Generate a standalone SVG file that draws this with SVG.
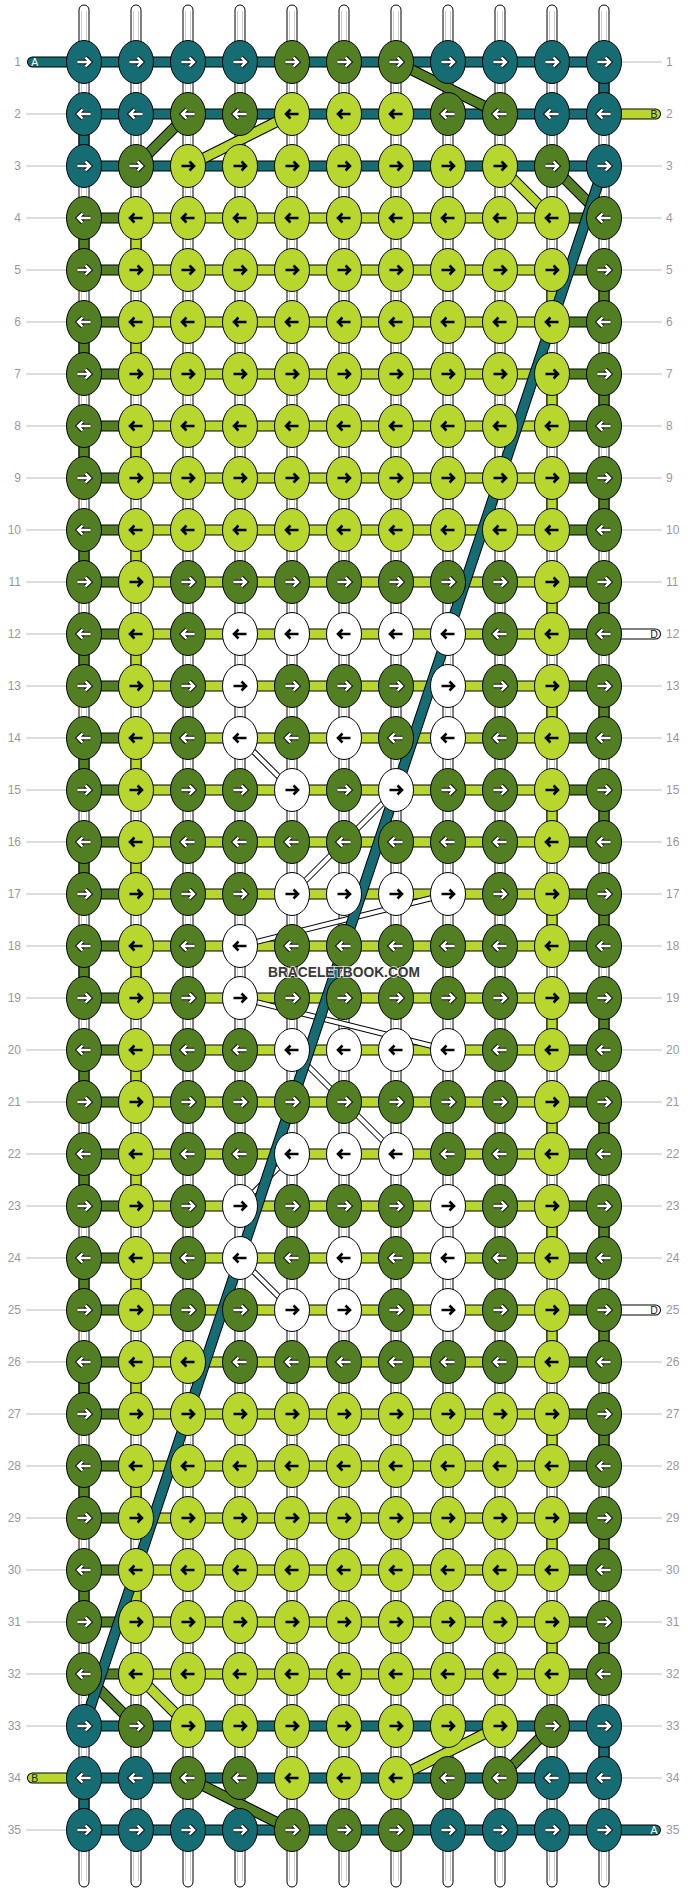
<svg xmlns="http://www.w3.org/2000/svg" width="688" height="1892" viewBox="0 0 688 1892">
<style>
.ko{fill:none;stroke:#000;stroke-width:11}
.kt{fill:none;stroke:#166c73;stroke-width:9}
.kg{fill:none;stroke:#527f22;stroke-width:9}
.kl{fill:none;stroke:#b7d72f;stroke-width:9}
.kw{fill:none;stroke:#fff;stroke-width:9}
.rc{stroke-linecap:round}
.wo{fill:none;stroke:#000;stroke-width:6}
.wi{fill:none;stroke:#fff;stroke-width:4}
.warp{fill:#fff;stroke:#000;stroke-width:1}
.wline{fill:none;stroke:#cfcfcf;stroke-width:1}
.guide{fill:none;stroke:#bbb;stroke-width:1}
.num{font-family:"Liberation Sans",Arial,sans-serif;font-size:12px;fill:#999}
.lab{font-family:"Liberation Sans",Arial,sans-serif;font-size:10.5px;text-anchor:middle}
.wm{font-family:"Liberation Sans",Arial,sans-serif;font-size:14.5px;font-weight:bold;fill:#383838;text-anchor:middle;stroke:#fff;stroke-width:2;stroke-opacity:0.7;paint-order:stroke}
</style>
<defs>
<ellipse id="e" rx="17.5" ry="21.5" stroke="#000" stroke-width="1"/>
<path id="pr" d="M-6.5,0H5M1.5,-4.5L6,0L1.5,4.5" fill="none"/>
<path id="pl" d="M6.5,0H-5M-1.5,-4.5L-6,0L-1.5,4.5" fill="none"/>
<g id="wr"><use href="#pr" stroke="#1a1a1a" stroke-width="4.6"/><use href="#pr" stroke="#fff" stroke-width="2.4"/></g>
<g id="wl"><use href="#pl" stroke="#1a1a1a" stroke-width="4.6"/><use href="#pl" stroke="#fff" stroke-width="2.4"/></g>
<use id="br" href="#pr" stroke="#000" stroke-width="2.6"/>
<use id="bl" href="#pl" stroke="#000" stroke-width="2.6"/>
<g id="TR"><use href="#e" fill="#166c73"/><use href="#wr"/></g>
<g id="TL"><use href="#e" fill="#166c73"/><use href="#wl"/></g>
<g id="GR"><use href="#e" fill="#527f22"/><use href="#wr"/></g>
<g id="GL"><use href="#e" fill="#527f22"/><use href="#wl"/></g>
<g id="LR"><use href="#e" fill="#b7d72f"/><use href="#br"/></g>
<g id="LL"><use href="#e" fill="#b7d72f"/><use href="#bl"/></g>
<g id="WR"><use href="#e" fill="#fff"/><use href="#br"/></g>
<g id="WL"><use href="#e" fill="#fff"/><use href="#bl"/></g>
</defs>
<rect width="688" height="1892" fill="#fff"/>
<g id="guides">
<path class="guide" d="M26,114H84M26,166H84M26,218H84M26,270H84M26,322H84M26,374H84M26,426H84M26,478H84M26,530H84M26,582H84M26,634H84M26,686H84M26,738H84M26,790H84M26,842H84M26,894H84M26,946H84M26,998H84M26,1050H84M26,1102H84M26,1154H84M26,1206H84M26,1258H84M26,1310H84M26,1362H84M26,1414H84M26,1466H84M26,1518H84M26,1570H84M26,1622H84M26,1674H84M26,1726H84M26,1830H84M604,62H662M604,166H662M604,218H662M604,270H662M604,322H662M604,374H662M604,426H662M604,478H662M604,530H662M604,582H662M604,686H662M604,738H662M604,790H662M604,842H662M604,894H662M604,946H662M604,998H662M604,1050H662M604,1102H662M604,1154H662M604,1206H662M604,1258H662M604,1362H662M604,1414H662M604,1466H662M604,1518H662M604,1570H662M604,1622H662M604,1674H662M604,1726H662M604,1778H662"/>
</g>
<g id="rownumbers" class="num">
<g text-anchor="end">
<text x="21" y="66">1</text><text x="21" y="118">2</text><text x="21" y="170">3</text><text x="21" y="222">4</text><text x="21" y="274">5</text><text x="21" y="326">6</text><text x="21" y="378">7</text><text x="21" y="430">8</text><text x="21" y="482">9</text><text x="21" y="534">10</text><text x="21" y="586">11</text><text x="21" y="638">12</text><text x="21" y="690">13</text><text x="21" y="742">14</text><text x="21" y="794">15</text><text x="21" y="846">16</text><text x="21" y="898">17</text><text x="21" y="950">18</text><text x="21" y="1002">19</text><text x="21" y="1054">20</text><text x="21" y="1106">21</text><text x="21" y="1158">22</text><text x="21" y="1210">23</text><text x="21" y="1262">24</text><text x="21" y="1314">25</text><text x="21" y="1366">26</text><text x="21" y="1418">27</text><text x="21" y="1470">28</text><text x="21" y="1522">29</text><text x="21" y="1574">30</text><text x="21" y="1626">31</text><text x="21" y="1678">32</text><text x="21" y="1730">33</text><text x="21" y="1782">34</text><text x="21" y="1834">35</text>
</g>
<g text-anchor="start">
<text x="666" y="66">1</text><text x="666" y="118">2</text><text x="666" y="170">3</text><text x="666" y="222">4</text><text x="666" y="274">5</text><text x="666" y="326">6</text><text x="666" y="378">7</text><text x="666" y="430">8</text><text x="666" y="482">9</text><text x="666" y="534">10</text><text x="666" y="586">11</text><text x="666" y="638">12</text><text x="666" y="690">13</text><text x="666" y="742">14</text><text x="666" y="794">15</text><text x="666" y="846">16</text><text x="666" y="898">17</text><text x="666" y="950">18</text><text x="666" y="1002">19</text><text x="666" y="1054">20</text><text x="666" y="1106">21</text><text x="666" y="1158">22</text><text x="666" y="1210">23</text><text x="666" y="1262">24</text><text x="666" y="1314">25</text><text x="666" y="1366">26</text><text x="666" y="1418">27</text><text x="666" y="1470">28</text><text x="666" y="1522">29</text><text x="666" y="1574">30</text><text x="666" y="1626">31</text><text x="666" y="1678">32</text><text x="666" y="1730">33</text><text x="666" y="1782">34</text><text x="666" y="1834">35</text>
</g>
</g>
<g id="warps">
<rect class="warp" x="79" y="5" width="10" height="1882" rx="5"/><rect class="warp" x="131" y="5" width="10" height="1882" rx="5"/><rect class="warp" x="183" y="5" width="10" height="1882" rx="5"/><rect class="warp" x="235" y="5" width="10" height="1882" rx="5"/><rect class="warp" x="287" y="5" width="10" height="1882" rx="5"/><rect class="warp" x="339" y="5" width="10" height="1882" rx="5"/><rect class="warp" x="391" y="5" width="10" height="1882" rx="5"/><rect class="warp" x="443" y="5" width="10" height="1882" rx="5"/><rect class="warp" x="495" y="5" width="10" height="1882" rx="5"/><rect class="warp" x="547" y="5" width="10" height="1882" rx="5"/><rect class="warp" x="599" y="5" width="10" height="1882" rx="5"/>
<path class="wline" d="M81.5,11V1881M86.5,11V1881M133.5,11V1881M138.5,11V1881M185.5,11V1881M190.5,11V1881M237.5,11V1881M242.5,11V1881M289.5,11V1881M294.5,11V1881M341.5,11V1881M346.5,11V1881M393.5,11V1881M398.5,11V1881M445.5,11V1881M450.5,11V1881M497.5,11V1881M502.5,11V1881M549.5,11V1881M554.5,11V1881M601.5,11V1881M606.5,11V1881"/>
</g>
<g id="connectors">
<path class="ko" d="M84,62H604M84,114H604M84,166H604M84,1726H604M84,1778H604M84,1830H604M604,62V114M84,114V166M604,1726V1778M84,1778V1830M84,218H604M84,270H604M84,322H604M84,374H604M84,426H604M84,478H604M84,530H604M84,582H604M84,634H604M84,686H604M84,738H604M84,790H604M84,842H604M84,894H604M84,946H604M84,998H604M84,1050H604M84,1102H604M84,1154H604M84,1206H604M84,1258H604M84,1310H604M84,1362H604M84,1414H604M84,1466H604M84,1518H604M84,1570H604M84,1622H604M84,1674H604M84,218V270M84,322V374M84,426V478M84,530V582M84,634V686M84,738V790M84,842V894M84,946V998M84,1050V1102M84,1154V1206M84,1258V1310M84,1362V1414M84,1466V1518M84,1570V1622M136,218V270M136,322V374M136,426V478M136,530V582M136,634V686M136,738V790M136,842V894M136,946V998M136,1050V1102M136,1154V1206M136,1258V1310M136,1362V1414M136,1466V1518M136,1570V1622M552,270V322M552,374V426M552,478V530M552,582V634M552,686V738M552,790V842M552,894V946M552,998V1050M552,1102V1154M552,1206V1258M552,1310V1362M552,1414V1466M552,1518V1570M552,1622V1674M604,270V322M604,374V426M604,478V530M604,582V634M604,686V738M604,790V842M604,894V946M604,998V1050M604,1102V1154M604,1206V1258M604,1310V1362M604,1414V1466M604,1518V1570M604,1622V1674"/>
<path class="kt" d="M84,62H604M84,114H604M84,166H604M84,1726H604M84,1778H604M84,1830H604M604,62V114M84,114V166M604,1726V1778M84,1778V1830"/>
<path class="kl" d="M136,218H552M136,270H552M136,322H552M136,374H552M136,426H552M136,478H552M136,530H552M136,582H552M136,634H552M136,686H552M136,738H552M136,790H552M136,842H552M136,894H552M136,946H552M136,998H552M136,1050H552M136,1102H552M136,1154H552M136,1206H552M136,1258H552M136,1310H552M136,1362H552M136,1414H552M136,1466H552M136,1518H552M136,1570H552M136,1622H552M136,1674H552M136,218V270M136,322V374M136,426V478M136,530V582M136,634V686M136,738V790M136,842V894M136,946V998M136,1050V1102M136,1154V1206M136,1258V1310M136,1362V1414M136,1466V1518M136,1570V1622M552,270V322M552,374V426M552,478V530M552,582V634M552,686V738M552,790V842M552,894V946M552,998V1050M552,1102V1154M552,1206V1258M552,1310V1362M552,1414V1466M552,1518V1570M552,1622V1674"/>
<path class="kg" d="M84,218H136M552,218H604M84,270H136M552,270H604M84,322H136M552,322H604M84,374H136M552,374H604M84,426H136M552,426H604M84,478H136M552,478H604M84,530H136M552,530H604M84,582H136M552,582H604M84,634H136M552,634H604M84,686H136M552,686H604M84,738H136M552,738H604M84,790H136M552,790H604M84,842H136M552,842H604M84,894H136M552,894H604M84,946H136M552,946H604M84,998H136M552,998H604M84,1050H136M552,1050H604M84,1102H136M552,1102H604M84,1154H136M552,1154H604M84,1206H136M552,1206H604M84,1258H136M552,1258H604M84,1310H136M552,1310H604M84,1362H136M552,1362H604M84,1414H136M552,1414H604M84,1466H136M552,1466H604M84,1518H136M552,1518H604M84,1570H136M552,1570H604M84,1622H136M552,1622H604M84,1674H136M552,1674H604M84,218V270M84,322V374M84,426V478M84,530V582M84,634V686M84,738V790M84,842V894M84,946V998M84,1050V1102M84,1154V1206M84,1258V1310M84,1362V1414M84,1466V1518M84,1570V1622M604,270V322M604,374V426M604,478V530M604,582V634M604,686V738M604,790V842M604,894V946M604,998V1050M604,1102V1154M604,1206V1258M604,1310V1362M604,1414V1466M604,1518V1570M604,1622V1674"/>
<path class="ko rc" d="M32.5,62H84M604,114H655.5M604,634H655.5M604,1310H655.5M32.5,1778H84M604,1830H655.5"/>
<path class="kt rc" d="M32.5,62H84M604,1830H655.5"/>
<path class="kl rc" d="M604,114H655.5M32.5,1778H84"/>
<path class="kw rc" d="M604,634H655.5M604,1310H655.5"/>
<path class="wo" d="M240,738L292,790M396,790L292,894M448,894L240,946M240,998L448,1050M292,1050L396,1154M292,1154L240,1206M240,1258L292,1310"/>
<path class="wi" d="M240,738L292,790M396,790L292,894M448,894L240,946M240,998L448,1050M292,1050L396,1154M292,1154L240,1206M240,1258L292,1310"/>
<path class="ko" d="M396,62L500,114M188,114L136,166M292,114L188,166M552,166L604,218M500,166L552,218M84,1674L136,1726M136,1674L188,1726M552,1726L500,1778M500,1726L396,1778M188,1778L292,1830"/>
<path class="kg" d="M396,62L500,114M188,114L136,166M552,166L604,218M84,1674L136,1726M552,1726L500,1778M188,1778L292,1830"/>
<path class="kl" d="M292,114L188,166M500,166L552,218M136,1674L188,1726M500,1726L396,1778"/>
<path class="ko" d="M604,166L84,1726"/>
<path class="kt" d="M604,166L84,1726"/>
</g>
<g id="threadlabels" class="lab">
<text x="34.7" y="66" fill="#fff">A</text>
<text x="654" y="118" fill="#222">B</text>
<text x="654" y="638" fill="#222">D</text>
<text x="654" y="1314" fill="#222">D</text>
<text x="34.7" y="1782" fill="#222">B</text>
<text x="654" y="1834" fill="#fff">A</text>
</g>
<g id="nodes">
<g id="n1-1" transform="translate(84,62)"><use href="#TR"/></g><g id="n1-2" transform="translate(136,62)"><use href="#TR"/></g><g id="n1-3" transform="translate(188,62)"><use href="#TR"/></g><g id="n1-4" transform="translate(240,62)"><use href="#TR"/></g><g id="n1-5" transform="translate(292,62)"><use href="#GR"/></g><g id="n1-6" transform="translate(344,62)"><use href="#GR"/></g><g id="n1-7" transform="translate(396,62)"><use href="#GR"/></g><g id="n1-8" transform="translate(448,62)"><use href="#TR"/></g><g id="n1-9" transform="translate(500,62)"><use href="#TR"/></g><g id="n1-10" transform="translate(552,62)"><use href="#TR"/></g><g id="n1-11" transform="translate(604,62)"><use href="#TR"/></g>
<g id="n2-1" transform="translate(84,114)"><use href="#TL"/></g><g id="n2-2" transform="translate(136,114)"><use href="#TL"/></g><g id="n2-3" transform="translate(188,114)"><use href="#GL"/></g><g id="n2-4" transform="translate(240,114)"><use href="#GL"/></g><g id="n2-5" transform="translate(292,114)"><use href="#LL"/></g><g id="n2-6" transform="translate(344,114)"><use href="#LL"/></g><g id="n2-7" transform="translate(396,114)"><use href="#LL"/></g><g id="n2-8" transform="translate(448,114)"><use href="#GL"/></g><g id="n2-9" transform="translate(500,114)"><use href="#GL"/></g><g id="n2-10" transform="translate(552,114)"><use href="#TL"/></g><g id="n2-11" transform="translate(604,114)"><use href="#TL"/></g>
<g id="n3-1" transform="translate(84,166)"><use href="#TR"/></g><g id="n3-2" transform="translate(136,166)"><use href="#GR"/></g><g id="n3-3" transform="translate(188,166)"><use href="#LR"/></g><g id="n3-4" transform="translate(240,166)"><use href="#LR"/></g><g id="n3-5" transform="translate(292,166)"><use href="#LR"/></g><g id="n3-6" transform="translate(344,166)"><use href="#LR"/></g><g id="n3-7" transform="translate(396,166)"><use href="#LR"/></g><g id="n3-8" transform="translate(448,166)"><use href="#LR"/></g><g id="n3-9" transform="translate(500,166)"><use href="#LR"/></g><g id="n3-10" transform="translate(552,166)"><use href="#GR"/></g><g id="n3-11" transform="translate(604,166)"><use href="#TR"/></g>
<g id="n4-1" transform="translate(84,218)"><use href="#GL"/></g><g id="n4-2" transform="translate(136,218)"><use href="#LL"/></g><g id="n4-3" transform="translate(188,218)"><use href="#LL"/></g><g id="n4-4" transform="translate(240,218)"><use href="#LL"/></g><g id="n4-5" transform="translate(292,218)"><use href="#LL"/></g><g id="n4-6" transform="translate(344,218)"><use href="#LL"/></g><g id="n4-7" transform="translate(396,218)"><use href="#LL"/></g><g id="n4-8" transform="translate(448,218)"><use href="#LL"/></g><g id="n4-9" transform="translate(500,218)"><use href="#LL"/></g><g id="n4-10" transform="translate(552,218)"><use href="#LL"/></g><g id="n4-11" transform="translate(604,218)"><use href="#GL"/></g>
<g id="n5-1" transform="translate(84,270)"><use href="#GR"/></g><g id="n5-2" transform="translate(136,270)"><use href="#LR"/></g><g id="n5-3" transform="translate(188,270)"><use href="#LR"/></g><g id="n5-4" transform="translate(240,270)"><use href="#LR"/></g><g id="n5-5" transform="translate(292,270)"><use href="#LR"/></g><g id="n5-6" transform="translate(344,270)"><use href="#LR"/></g><g id="n5-7" transform="translate(396,270)"><use href="#LR"/></g><g id="n5-8" transform="translate(448,270)"><use href="#LR"/></g><g id="n5-9" transform="translate(500,270)"><use href="#LR"/></g><g id="n5-10" transform="translate(552,270)"><use href="#LR"/></g><g id="n5-11" transform="translate(604,270)"><use href="#GR"/></g>
<g id="n6-1" transform="translate(84,322)"><use href="#GL"/></g><g id="n6-2" transform="translate(136,322)"><use href="#LL"/></g><g id="n6-3" transform="translate(188,322)"><use href="#LL"/></g><g id="n6-4" transform="translate(240,322)"><use href="#LL"/></g><g id="n6-5" transform="translate(292,322)"><use href="#LL"/></g><g id="n6-6" transform="translate(344,322)"><use href="#LL"/></g><g id="n6-7" transform="translate(396,322)"><use href="#LL"/></g><g id="n6-8" transform="translate(448,322)"><use href="#LL"/></g><g id="n6-9" transform="translate(500,322)"><use href="#LL"/></g><g id="n6-10" transform="translate(552,322)"><use href="#LL"/></g><g id="n6-11" transform="translate(604,322)"><use href="#GL"/></g>
<g id="n7-1" transform="translate(84,374)"><use href="#GR"/></g><g id="n7-2" transform="translate(136,374)"><use href="#LR"/></g><g id="n7-3" transform="translate(188,374)"><use href="#LR"/></g><g id="n7-4" transform="translate(240,374)"><use href="#LR"/></g><g id="n7-5" transform="translate(292,374)"><use href="#LR"/></g><g id="n7-6" transform="translate(344,374)"><use href="#LR"/></g><g id="n7-7" transform="translate(396,374)"><use href="#LR"/></g><g id="n7-8" transform="translate(448,374)"><use href="#LR"/></g><g id="n7-9" transform="translate(500,374)"><use href="#LR"/></g><g id="n7-10" transform="translate(552,374)"><use href="#LR"/></g><g id="n7-11" transform="translate(604,374)"><use href="#GR"/></g>
<g id="n8-1" transform="translate(84,426)"><use href="#GL"/></g><g id="n8-2" transform="translate(136,426)"><use href="#LL"/></g><g id="n8-3" transform="translate(188,426)"><use href="#LL"/></g><g id="n8-4" transform="translate(240,426)"><use href="#LL"/></g><g id="n8-5" transform="translate(292,426)"><use href="#LL"/></g><g id="n8-6" transform="translate(344,426)"><use href="#LL"/></g><g id="n8-7" transform="translate(396,426)"><use href="#LL"/></g><g id="n8-8" transform="translate(448,426)"><use href="#LL"/></g><g id="n8-9" transform="translate(500,426)"><use href="#LL"/></g><g id="n8-10" transform="translate(552,426)"><use href="#LL"/></g><g id="n8-11" transform="translate(604,426)"><use href="#GL"/></g>
<g id="n9-1" transform="translate(84,478)"><use href="#GR"/></g><g id="n9-2" transform="translate(136,478)"><use href="#LR"/></g><g id="n9-3" transform="translate(188,478)"><use href="#LR"/></g><g id="n9-4" transform="translate(240,478)"><use href="#LR"/></g><g id="n9-5" transform="translate(292,478)"><use href="#LR"/></g><g id="n9-6" transform="translate(344,478)"><use href="#LR"/></g><g id="n9-7" transform="translate(396,478)"><use href="#LR"/></g><g id="n9-8" transform="translate(448,478)"><use href="#LR"/></g><g id="n9-9" transform="translate(500,478)"><use href="#LR"/></g><g id="n9-10" transform="translate(552,478)"><use href="#LR"/></g><g id="n9-11" transform="translate(604,478)"><use href="#GR"/></g>
<g id="n10-1" transform="translate(84,530)"><use href="#GL"/></g><g id="n10-2" transform="translate(136,530)"><use href="#LL"/></g><g id="n10-3" transform="translate(188,530)"><use href="#LL"/></g><g id="n10-4" transform="translate(240,530)"><use href="#LL"/></g><g id="n10-5" transform="translate(292,530)"><use href="#LL"/></g><g id="n10-6" transform="translate(344,530)"><use href="#LL"/></g><g id="n10-7" transform="translate(396,530)"><use href="#LL"/></g><g id="n10-8" transform="translate(448,530)"><use href="#LL"/></g><g id="n10-9" transform="translate(500,530)"><use href="#LL"/></g><g id="n10-10" transform="translate(552,530)"><use href="#LL"/></g><g id="n10-11" transform="translate(604,530)"><use href="#GL"/></g>
<g id="n11-1" transform="translate(84,582)"><use href="#GR"/></g><g id="n11-2" transform="translate(136,582)"><use href="#LR"/></g><g id="n11-3" transform="translate(188,582)"><use href="#GR"/></g><g id="n11-4" transform="translate(240,582)"><use href="#GR"/></g><g id="n11-5" transform="translate(292,582)"><use href="#GR"/></g><g id="n11-6" transform="translate(344,582)"><use href="#GR"/></g><g id="n11-7" transform="translate(396,582)"><use href="#GR"/></g><g id="n11-8" transform="translate(448,582)"><use href="#GR"/></g><g id="n11-9" transform="translate(500,582)"><use href="#GR"/></g><g id="n11-10" transform="translate(552,582)"><use href="#LR"/></g><g id="n11-11" transform="translate(604,582)"><use href="#GR"/></g>
<g id="n12-1" transform="translate(84,634)"><use href="#GL"/></g><g id="n12-2" transform="translate(136,634)"><use href="#LL"/></g><g id="n12-3" transform="translate(188,634)"><use href="#GL"/></g><g id="n12-4" transform="translate(240,634)"><use href="#WL"/></g><g id="n12-5" transform="translate(292,634)"><use href="#WL"/></g><g id="n12-6" transform="translate(344,634)"><use href="#WL"/></g><g id="n12-7" transform="translate(396,634)"><use href="#WL"/></g><g id="n12-8" transform="translate(448,634)"><use href="#WL"/></g><g id="n12-9" transform="translate(500,634)"><use href="#GL"/></g><g id="n12-10" transform="translate(552,634)"><use href="#LL"/></g><g id="n12-11" transform="translate(604,634)"><use href="#GL"/></g>
<g id="n13-1" transform="translate(84,686)"><use href="#GR"/></g><g id="n13-2" transform="translate(136,686)"><use href="#LR"/></g><g id="n13-3" transform="translate(188,686)"><use href="#GR"/></g><g id="n13-4" transform="translate(240,686)"><use href="#WR"/></g><g id="n13-5" transform="translate(292,686)"><use href="#GR"/></g><g id="n13-6" transform="translate(344,686)"><use href="#GR"/></g><g id="n13-7" transform="translate(396,686)"><use href="#GR"/></g><g id="n13-8" transform="translate(448,686)"><use href="#WR"/></g><g id="n13-9" transform="translate(500,686)"><use href="#GR"/></g><g id="n13-10" transform="translate(552,686)"><use href="#LR"/></g><g id="n13-11" transform="translate(604,686)"><use href="#GR"/></g>
<g id="n14-1" transform="translate(84,738)"><use href="#GL"/></g><g id="n14-2" transform="translate(136,738)"><use href="#LL"/></g><g id="n14-3" transform="translate(188,738)"><use href="#GL"/></g><g id="n14-4" transform="translate(240,738)"><use href="#WL"/></g><g id="n14-5" transform="translate(292,738)"><use href="#GL"/></g><g id="n14-6" transform="translate(344,738)"><use href="#WL"/></g><g id="n14-7" transform="translate(396,738)"><use href="#GL"/></g><g id="n14-8" transform="translate(448,738)"><use href="#WL"/></g><g id="n14-9" transform="translate(500,738)"><use href="#GL"/></g><g id="n14-10" transform="translate(552,738)"><use href="#LL"/></g><g id="n14-11" transform="translate(604,738)"><use href="#GL"/></g>
<g id="n15-1" transform="translate(84,790)"><use href="#GR"/></g><g id="n15-2" transform="translate(136,790)"><use href="#LR"/></g><g id="n15-3" transform="translate(188,790)"><use href="#GR"/></g><g id="n15-4" transform="translate(240,790)"><use href="#GR"/></g><g id="n15-5" transform="translate(292,790)"><use href="#WR"/></g><g id="n15-6" transform="translate(344,790)"><use href="#GR"/></g><g id="n15-7" transform="translate(396,790)"><use href="#WR"/></g><g id="n15-8" transform="translate(448,790)"><use href="#GR"/></g><g id="n15-9" transform="translate(500,790)"><use href="#GR"/></g><g id="n15-10" transform="translate(552,790)"><use href="#LR"/></g><g id="n15-11" transform="translate(604,790)"><use href="#GR"/></g>
<g id="n16-1" transform="translate(84,842)"><use href="#GL"/></g><g id="n16-2" transform="translate(136,842)"><use href="#LL"/></g><g id="n16-3" transform="translate(188,842)"><use href="#GL"/></g><g id="n16-4" transform="translate(240,842)"><use href="#GL"/></g><g id="n16-5" transform="translate(292,842)"><use href="#GL"/></g><g id="n16-6" transform="translate(344,842)"><use href="#GL"/></g><g id="n16-7" transform="translate(396,842)"><use href="#GL"/></g><g id="n16-8" transform="translate(448,842)"><use href="#GL"/></g><g id="n16-9" transform="translate(500,842)"><use href="#GL"/></g><g id="n16-10" transform="translate(552,842)"><use href="#LL"/></g><g id="n16-11" transform="translate(604,842)"><use href="#GL"/></g>
<g id="n17-1" transform="translate(84,894)"><use href="#GR"/></g><g id="n17-2" transform="translate(136,894)"><use href="#LR"/></g><g id="n17-3" transform="translate(188,894)"><use href="#GR"/></g><g id="n17-4" transform="translate(240,894)"><use href="#GR"/></g><g id="n17-5" transform="translate(292,894)"><use href="#WR"/></g><g id="n17-6" transform="translate(344,894)"><use href="#WR"/></g><g id="n17-7" transform="translate(396,894)"><use href="#WR"/></g><g id="n17-8" transform="translate(448,894)"><use href="#WR"/></g><g id="n17-9" transform="translate(500,894)"><use href="#GR"/></g><g id="n17-10" transform="translate(552,894)"><use href="#LR"/></g><g id="n17-11" transform="translate(604,894)"><use href="#GR"/></g>
<g id="n18-1" transform="translate(84,946)"><use href="#GL"/></g><g id="n18-2" transform="translate(136,946)"><use href="#LL"/></g><g id="n18-3" transform="translate(188,946)"><use href="#GL"/></g><g id="n18-4" transform="translate(240,946)"><use href="#WL"/></g><g id="n18-5" transform="translate(292,946)"><use href="#GL"/></g><g id="n18-6" transform="translate(344,946)"><use href="#GL"/></g><g id="n18-7" transform="translate(396,946)"><use href="#GL"/></g><g id="n18-8" transform="translate(448,946)"><use href="#GL"/></g><g id="n18-9" transform="translate(500,946)"><use href="#GL"/></g><g id="n18-10" transform="translate(552,946)"><use href="#LL"/></g><g id="n18-11" transform="translate(604,946)"><use href="#GL"/></g>
<g id="n19-1" transform="translate(84,998)"><use href="#GR"/></g><g id="n19-2" transform="translate(136,998)"><use href="#LR"/></g><g id="n19-3" transform="translate(188,998)"><use href="#GR"/></g><g id="n19-4" transform="translate(240,998)"><use href="#WR"/></g><g id="n19-5" transform="translate(292,998)"><use href="#GR"/></g><g id="n19-6" transform="translate(344,998)"><use href="#GR"/></g><g id="n19-7" transform="translate(396,998)"><use href="#GR"/></g><g id="n19-8" transform="translate(448,998)"><use href="#GR"/></g><g id="n19-9" transform="translate(500,998)"><use href="#GR"/></g><g id="n19-10" transform="translate(552,998)"><use href="#LR"/></g><g id="n19-11" transform="translate(604,998)"><use href="#GR"/></g>
<g id="n20-1" transform="translate(84,1050)"><use href="#GL"/></g><g id="n20-2" transform="translate(136,1050)"><use href="#LL"/></g><g id="n20-3" transform="translate(188,1050)"><use href="#GL"/></g><g id="n20-4" transform="translate(240,1050)"><use href="#GL"/></g><g id="n20-5" transform="translate(292,1050)"><use href="#WL"/></g><g id="n20-6" transform="translate(344,1050)"><use href="#WL"/></g><g id="n20-7" transform="translate(396,1050)"><use href="#WL"/></g><g id="n20-8" transform="translate(448,1050)"><use href="#WL"/></g><g id="n20-9" transform="translate(500,1050)"><use href="#GL"/></g><g id="n20-10" transform="translate(552,1050)"><use href="#LL"/></g><g id="n20-11" transform="translate(604,1050)"><use href="#GL"/></g>
<g id="n21-1" transform="translate(84,1102)"><use href="#GR"/></g><g id="n21-2" transform="translate(136,1102)"><use href="#LR"/></g><g id="n21-3" transform="translate(188,1102)"><use href="#GR"/></g><g id="n21-4" transform="translate(240,1102)"><use href="#GR"/></g><g id="n21-5" transform="translate(292,1102)"><use href="#GR"/></g><g id="n21-6" transform="translate(344,1102)"><use href="#GR"/></g><g id="n21-7" transform="translate(396,1102)"><use href="#GR"/></g><g id="n21-8" transform="translate(448,1102)"><use href="#GR"/></g><g id="n21-9" transform="translate(500,1102)"><use href="#GR"/></g><g id="n21-10" transform="translate(552,1102)"><use href="#LR"/></g><g id="n21-11" transform="translate(604,1102)"><use href="#GR"/></g>
<g id="n22-1" transform="translate(84,1154)"><use href="#GL"/></g><g id="n22-2" transform="translate(136,1154)"><use href="#LL"/></g><g id="n22-3" transform="translate(188,1154)"><use href="#GL"/></g><g id="n22-4" transform="translate(240,1154)"><use href="#GL"/></g><g id="n22-5" transform="translate(292,1154)"><use href="#WL"/></g><g id="n22-6" transform="translate(344,1154)"><use href="#WL"/></g><g id="n22-7" transform="translate(396,1154)"><use href="#WL"/></g><g id="n22-8" transform="translate(448,1154)"><use href="#GL"/></g><g id="n22-9" transform="translate(500,1154)"><use href="#GL"/></g><g id="n22-10" transform="translate(552,1154)"><use href="#LL"/></g><g id="n22-11" transform="translate(604,1154)"><use href="#GL"/></g>
<g id="n23-1" transform="translate(84,1206)"><use href="#GR"/></g><g id="n23-2" transform="translate(136,1206)"><use href="#LR"/></g><g id="n23-3" transform="translate(188,1206)"><use href="#GR"/></g><g id="n23-4" transform="translate(240,1206)"><use href="#WR"/></g><g id="n23-5" transform="translate(292,1206)"><use href="#GR"/></g><g id="n23-6" transform="translate(344,1206)"><use href="#GR"/></g><g id="n23-7" transform="translate(396,1206)"><use href="#GR"/></g><g id="n23-8" transform="translate(448,1206)"><use href="#WR"/></g><g id="n23-9" transform="translate(500,1206)"><use href="#GR"/></g><g id="n23-10" transform="translate(552,1206)"><use href="#LR"/></g><g id="n23-11" transform="translate(604,1206)"><use href="#GR"/></g>
<g id="n24-1" transform="translate(84,1258)"><use href="#GL"/></g><g id="n24-2" transform="translate(136,1258)"><use href="#LL"/></g><g id="n24-3" transform="translate(188,1258)"><use href="#GL"/></g><g id="n24-4" transform="translate(240,1258)"><use href="#WL"/></g><g id="n24-5" transform="translate(292,1258)"><use href="#GL"/></g><g id="n24-6" transform="translate(344,1258)"><use href="#WL"/></g><g id="n24-7" transform="translate(396,1258)"><use href="#GL"/></g><g id="n24-8" transform="translate(448,1258)"><use href="#WL"/></g><g id="n24-9" transform="translate(500,1258)"><use href="#GL"/></g><g id="n24-10" transform="translate(552,1258)"><use href="#LL"/></g><g id="n24-11" transform="translate(604,1258)"><use href="#GL"/></g>
<g id="n25-1" transform="translate(84,1310)"><use href="#GR"/></g><g id="n25-2" transform="translate(136,1310)"><use href="#LR"/></g><g id="n25-3" transform="translate(188,1310)"><use href="#GR"/></g><g id="n25-4" transform="translate(240,1310)"><use href="#GR"/></g><g id="n25-5" transform="translate(292,1310)"><use href="#WR"/></g><g id="n25-6" transform="translate(344,1310)"><use href="#WR"/></g><g id="n25-7" transform="translate(396,1310)"><use href="#GR"/></g><g id="n25-8" transform="translate(448,1310)"><use href="#WR"/></g><g id="n25-9" transform="translate(500,1310)"><use href="#GR"/></g><g id="n25-10" transform="translate(552,1310)"><use href="#LR"/></g><g id="n25-11" transform="translate(604,1310)"><use href="#GR"/></g>
<g id="n26-1" transform="translate(84,1362)"><use href="#GL"/></g><g id="n26-2" transform="translate(136,1362)"><use href="#LL"/></g><g id="n26-3" transform="translate(188,1362)"><use href="#LL"/></g><g id="n26-4" transform="translate(240,1362)"><use href="#GL"/></g><g id="n26-5" transform="translate(292,1362)"><use href="#GL"/></g><g id="n26-6" transform="translate(344,1362)"><use href="#GL"/></g><g id="n26-7" transform="translate(396,1362)"><use href="#GL"/></g><g id="n26-8" transform="translate(448,1362)"><use href="#GL"/></g><g id="n26-9" transform="translate(500,1362)"><use href="#GL"/></g><g id="n26-10" transform="translate(552,1362)"><use href="#LL"/></g><g id="n26-11" transform="translate(604,1362)"><use href="#GL"/></g>
<g id="n27-1" transform="translate(84,1414)"><use href="#GR"/></g><g id="n27-2" transform="translate(136,1414)"><use href="#LR"/></g><g id="n27-3" transform="translate(188,1414)"><use href="#LR"/></g><g id="n27-4" transform="translate(240,1414)"><use href="#LR"/></g><g id="n27-5" transform="translate(292,1414)"><use href="#LR"/></g><g id="n27-6" transform="translate(344,1414)"><use href="#LR"/></g><g id="n27-7" transform="translate(396,1414)"><use href="#LR"/></g><g id="n27-8" transform="translate(448,1414)"><use href="#LR"/></g><g id="n27-9" transform="translate(500,1414)"><use href="#LR"/></g><g id="n27-10" transform="translate(552,1414)"><use href="#LR"/></g><g id="n27-11" transform="translate(604,1414)"><use href="#GR"/></g>
<g id="n28-1" transform="translate(84,1466)"><use href="#GL"/></g><g id="n28-2" transform="translate(136,1466)"><use href="#LL"/></g><g id="n28-3" transform="translate(188,1466)"><use href="#LL"/></g><g id="n28-4" transform="translate(240,1466)"><use href="#LL"/></g><g id="n28-5" transform="translate(292,1466)"><use href="#LL"/></g><g id="n28-6" transform="translate(344,1466)"><use href="#LL"/></g><g id="n28-7" transform="translate(396,1466)"><use href="#LL"/></g><g id="n28-8" transform="translate(448,1466)"><use href="#LL"/></g><g id="n28-9" transform="translate(500,1466)"><use href="#LL"/></g><g id="n28-10" transform="translate(552,1466)"><use href="#LL"/></g><g id="n28-11" transform="translate(604,1466)"><use href="#GL"/></g>
<g id="n29-1" transform="translate(84,1518)"><use href="#GR"/></g><g id="n29-2" transform="translate(136,1518)"><use href="#LR"/></g><g id="n29-3" transform="translate(188,1518)"><use href="#LR"/></g><g id="n29-4" transform="translate(240,1518)"><use href="#LR"/></g><g id="n29-5" transform="translate(292,1518)"><use href="#LR"/></g><g id="n29-6" transform="translate(344,1518)"><use href="#LR"/></g><g id="n29-7" transform="translate(396,1518)"><use href="#LR"/></g><g id="n29-8" transform="translate(448,1518)"><use href="#LR"/></g><g id="n29-9" transform="translate(500,1518)"><use href="#LR"/></g><g id="n29-10" transform="translate(552,1518)"><use href="#LR"/></g><g id="n29-11" transform="translate(604,1518)"><use href="#GR"/></g>
<g id="n30-1" transform="translate(84,1570)"><use href="#GL"/></g><g id="n30-2" transform="translate(136,1570)"><use href="#LL"/></g><g id="n30-3" transform="translate(188,1570)"><use href="#LL"/></g><g id="n30-4" transform="translate(240,1570)"><use href="#LL"/></g><g id="n30-5" transform="translate(292,1570)"><use href="#LL"/></g><g id="n30-6" transform="translate(344,1570)"><use href="#LL"/></g><g id="n30-7" transform="translate(396,1570)"><use href="#LL"/></g><g id="n30-8" transform="translate(448,1570)"><use href="#LL"/></g><g id="n30-9" transform="translate(500,1570)"><use href="#LL"/></g><g id="n30-10" transform="translate(552,1570)"><use href="#LL"/></g><g id="n30-11" transform="translate(604,1570)"><use href="#GL"/></g>
<g id="n31-1" transform="translate(84,1622)"><use href="#GR"/></g><g id="n31-2" transform="translate(136,1622)"><use href="#LR"/></g><g id="n31-3" transform="translate(188,1622)"><use href="#LR"/></g><g id="n31-4" transform="translate(240,1622)"><use href="#LR"/></g><g id="n31-5" transform="translate(292,1622)"><use href="#LR"/></g><g id="n31-6" transform="translate(344,1622)"><use href="#LR"/></g><g id="n31-7" transform="translate(396,1622)"><use href="#LR"/></g><g id="n31-8" transform="translate(448,1622)"><use href="#LR"/></g><g id="n31-9" transform="translate(500,1622)"><use href="#LR"/></g><g id="n31-10" transform="translate(552,1622)"><use href="#LR"/></g><g id="n31-11" transform="translate(604,1622)"><use href="#GR"/></g>
<g id="n32-1" transform="translate(84,1674)"><use href="#GL"/></g><g id="n32-2" transform="translate(136,1674)"><use href="#LL"/></g><g id="n32-3" transform="translate(188,1674)"><use href="#LL"/></g><g id="n32-4" transform="translate(240,1674)"><use href="#LL"/></g><g id="n32-5" transform="translate(292,1674)"><use href="#LL"/></g><g id="n32-6" transform="translate(344,1674)"><use href="#LL"/></g><g id="n32-7" transform="translate(396,1674)"><use href="#LL"/></g><g id="n32-8" transform="translate(448,1674)"><use href="#LL"/></g><g id="n32-9" transform="translate(500,1674)"><use href="#LL"/></g><g id="n32-10" transform="translate(552,1674)"><use href="#LL"/></g><g id="n32-11" transform="translate(604,1674)"><use href="#GL"/></g>
<g id="n33-1" transform="translate(84,1726)"><use href="#TR"/></g><g id="n33-2" transform="translate(136,1726)"><use href="#GR"/></g><g id="n33-3" transform="translate(188,1726)"><use href="#LR"/></g><g id="n33-4" transform="translate(240,1726)"><use href="#LR"/></g><g id="n33-5" transform="translate(292,1726)"><use href="#LR"/></g><g id="n33-6" transform="translate(344,1726)"><use href="#LR"/></g><g id="n33-7" transform="translate(396,1726)"><use href="#LR"/></g><g id="n33-8" transform="translate(448,1726)"><use href="#LR"/></g><g id="n33-9" transform="translate(500,1726)"><use href="#LR"/></g><g id="n33-10" transform="translate(552,1726)"><use href="#GR"/></g><g id="n33-11" transform="translate(604,1726)"><use href="#TR"/></g>
<g id="n34-1" transform="translate(84,1778)"><use href="#TL"/></g><g id="n34-2" transform="translate(136,1778)"><use href="#TL"/></g><g id="n34-3" transform="translate(188,1778)"><use href="#GL"/></g><g id="n34-4" transform="translate(240,1778)"><use href="#GL"/></g><g id="n34-5" transform="translate(292,1778)"><use href="#LL"/></g><g id="n34-6" transform="translate(344,1778)"><use href="#LL"/></g><g id="n34-7" transform="translate(396,1778)"><use href="#LL"/></g><g id="n34-8" transform="translate(448,1778)"><use href="#GL"/></g><g id="n34-9" transform="translate(500,1778)"><use href="#GL"/></g><g id="n34-10" transform="translate(552,1778)"><use href="#TL"/></g><g id="n34-11" transform="translate(604,1778)"><use href="#TL"/></g>
<g id="n35-1" transform="translate(84,1830)"><use href="#TR"/></g><g id="n35-2" transform="translate(136,1830)"><use href="#TR"/></g><g id="n35-3" transform="translate(188,1830)"><use href="#TR"/></g><g id="n35-4" transform="translate(240,1830)"><use href="#TR"/></g><g id="n35-5" transform="translate(292,1830)"><use href="#GR"/></g><g id="n35-6" transform="translate(344,1830)"><use href="#GR"/></g><g id="n35-7" transform="translate(396,1830)"><use href="#GR"/></g><g id="n35-8" transform="translate(448,1830)"><use href="#TR"/></g><g id="n35-9" transform="translate(500,1830)"><use href="#TR"/></g><g id="n35-10" transform="translate(552,1830)"><use href="#TR"/></g><g id="n35-11" transform="translate(604,1830)"><use href="#TR"/></g>
</g>
<text class="wm" x="344" y="977" textLength="152" lengthAdjust="spacingAndGlyphs">BRACELETBOOK.COM</text>
</svg>
